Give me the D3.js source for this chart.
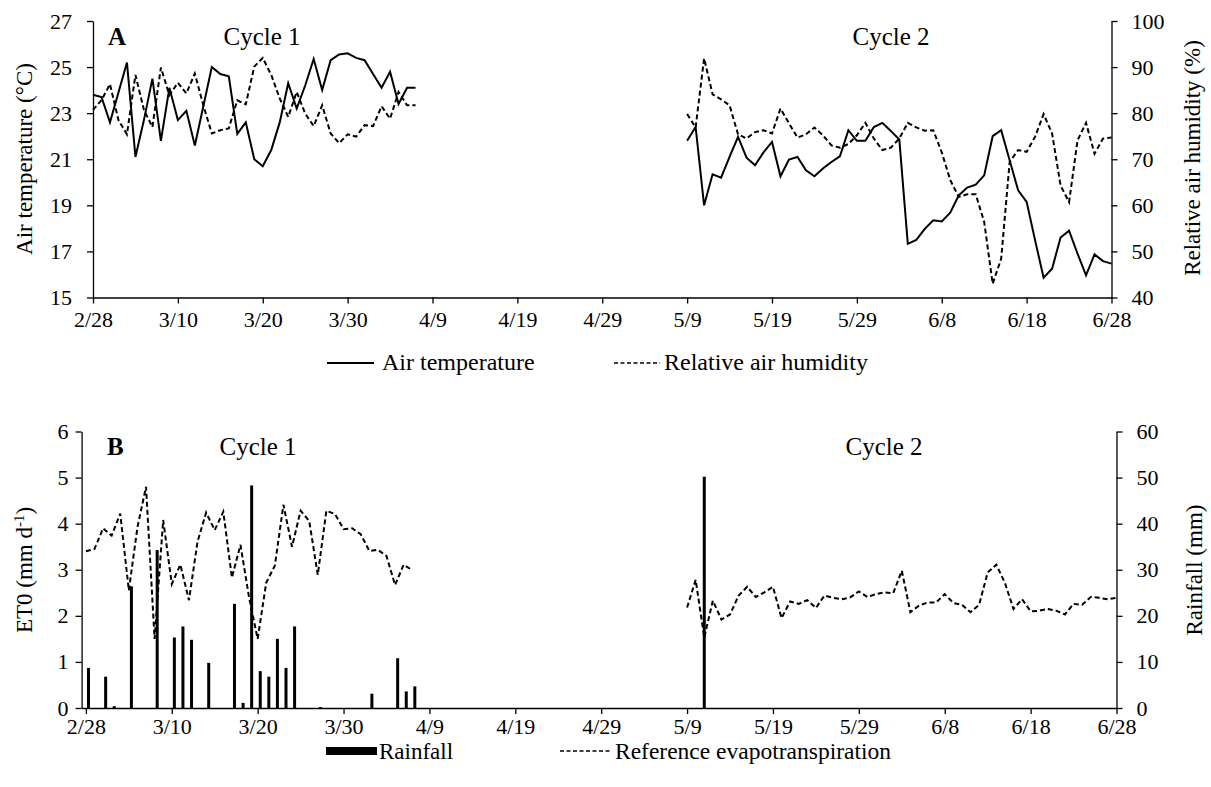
<!DOCTYPE html>
<html>
<head>
<meta charset="utf-8">
<script src="https://cdn.jsdelivr.net/npm/d3@7"></script>
<style>
  body { margin: 0; background: #fff; }
  svg text { font-family: "Liberation Serif", "Times New Roman", serif !important; fill: #000; }
  .axis path, .axis line { stroke: #000; stroke-width: 1.3; }
</style>
</head>
<body>
<script>
// day index 0 = 2/28 ... 120 = 6/28
const tickDays = [0, 10, 20, 30, 40, 50, 60, 70, 80, 90, 100, 110, 120];
const tickLabels = ["2/28", "3/10", "3/20", "3/30", "4/9", "4/19", "4/29", "5/9", "5/19", "5/29", "6/8", "6/18", "6/28"];

const cycle1Start = 0;
const cycle2Start = 70;

// panel A
const temp1 = [23.8, 23.7, 22.6, 23.9, 25.2, 21.1, 22.7, 24.5, 21.8, 24.1, 22.7, 23.1, 21.6, 23.3, 25.0, 24.7, 24.6, 22.1, 22.6, 21.0,
               20.7, 21.4, 22.6, 24.3, 23.2, 24.2, 25.35, 24.0, 25.3, 25.55, 25.6, 25.4, 25.3, 24.7, 24.1, 24.8, 23.4, 24.1, 24.1];
const humid1 = [80.7, 82.8, 86.3, 78.5, 75.4, 88.3, 80.7, 77.0, 89.9, 83.9, 86.6, 84.3, 88.6, 81.7, 75.6, 76.3, 76.7, 82.8, 81.9, 90.1,
                92.0, 88.3, 83.2, 79.2, 84.6, 79.9, 77.2, 81.7, 75.6, 73.5, 75.4, 74.9, 77.4, 77.2, 81.5, 78.8, 84.6, 81.7, 81.7];
const temp2 = [21.8, 22.4, 19.0, 20.35, 20.2, 21.1, 21.97, 21.07, 20.74, 21.3, 21.75, 20.26, 20.99, 21.1, 20.52, 20.26, 20.6, 20.88, 21.13, 22.26,
               21.8, 21.8, 22.4, 22.58, 22.23, 21.86, 17.33, 17.5, 17.98, 18.35, 18.3, 18.68, 19.43, 19.77, 19.9, 20.3, 22.0, 22.26, 20.96, 19.65,
               19.15, 17.48, 15.86, 16.25, 17.6, 17.9, 16.9, 15.96, 16.87, 16.58, 16.47];
const humid2 = [79.8, 76.9, 91.9, 84.1, 83.0, 81.7, 75.4, 74.5, 75.9, 76.3, 75.6, 81.0, 77.8, 74.7, 75.4, 76.9, 75.2, 73.0, 72.5, 73.3,
                75.2, 77.9, 74.5, 72.0, 72.5, 74.5, 77.9, 76.9, 76.2, 76.3, 71.5, 65.5, 61.8, 62.4, 62.4, 56.4, 43.0, 48.4, 69.4, 72.0,
                71.6, 74.9, 79.8, 75.6, 64.3, 60.7, 74.1, 77.9, 71.2, 74.5, 74.7];

// panel B
const eto1 = [3.4, 3.45, 3.90, 3.74, 4.22, 2.55, 3.92, 4.80, 1.50, 4.08, 2.69, 3.11, 2.34, 3.61, 4.24, 3.86, 4.26, 2.83, 3.54, 2.40,
              1.50, 2.72, 3.09, 4.41, 3.50, 4.28, 4.06, 2.89, 4.28, 4.21, 3.88, 3.90, 3.77, 3.41, 3.43, 3.30, 2.67, 3.11, 2.99];
const eto2 = [2.18, 2.78, 1.53, 2.33, 1.92, 2.03, 2.44, 2.63, 2.41, 2.51, 2.63, 1.95, 2.31, 2.26, 2.34, 2.17, 2.44, 2.39, 2.36, 2.40,
              2.53, 2.41, 2.47, 2.51, 2.49, 2.98, 2.08, 2.22, 2.29, 2.29, 2.47, 2.28, 2.24, 2.08, 2.24, 2.94, 3.11, 2.72, 2.15, 2.36,
              2.10, 2.11, 2.15, 2.11, 2.03, 2.26, 2.24, 2.41, 2.39, 2.36, 2.39];
const rainDays = [0, 2, 3, 5, 8, 10, 11, 12, 14, 17, 18, 19, 20, 21, 22, 23, 24, 27, 33, 36, 37, 38, 72];
const rainMm = [8.7, 6.8, 0.4, 26.4, 34.3, 15.3, 17.7, 14.8, 9.8, 22.6, 1.1, 48.3, 8.0, 6.8, 15.0, 8.7, 17.7, 0.2, 3.1, 10.8, 3.6, 4.7, 50.2];

const tempTicks = [15, 17, 19, 21, 23, 25, 27];
const humidTicks = [40, 50, 60, 70, 80, 90, 100];
const etoTicks = [0, 1, 2, 3, 4, 5, 6];
const rainTicks = [0, 10, 20, 30, 40, 50, 60];

const w = 1211;
const h = 787;
const serif = '"Liberation Serif", "Times New Roman", serif';
const fs = 22;

const svg = d3.select("body").append("svg")
              .attr("width", w)
              .attr("height", h)
              .attr("font-family", serif);

const dayLabel = d => tickLabels[tickDays.indexOf(d)];
const toPoints = (vals, start) => vals.map((v, i) => [start + i, v]);

function styleAxis(g) {
  g.attr("class", "axis").attr("font-family", serif).attr("font-size", fs);
  g.selectAll("text").style("font-family", serif).style("font-size", fs + "px").attr("fill", "#000");
}

// ---------- panel A ----------
const xA = d3.scaleLinear().domain([0, 120]).range([93, 1111.5]);
const yTemp = d3.scaleLinear().domain([15, 27]).range([297.5, 21]);
const yHum = d3.scaleLinear().domain([40, 100]).range([297.5, 21]);

svg.append("g")
   .attr("transform", "translate(0," + yTemp(15) + ")")
   .call(d3.axisBottom(xA).tickValues(tickDays).tickFormat(dayLabel).tickSize(6).tickSizeOuter(0).tickPadding(8))
   .call(styleAxis);
svg.append("g")
   .attr("transform", "translate(" + xA(0) + ",0)")
   .call(d3.axisLeft(yTemp).tickValues(tempTicks).tickSize(6).tickSizeOuter(0).tickPadding(15))
   .call(styleAxis);
svg.append("g")
   .attr("transform", "translate(" + xA(120) + ",0)")
   .call(d3.axisRight(yHum).tickValues(humidTicks).tickSize(6).tickSizeOuter(0).tickPadding(14))
   .call(styleAxis);

const lineTemp = d3.line().x(d => xA(d[0])).y(d => yTemp(d[1]));
const lineHum = d3.line().x(d => xA(d[0])).y(d => yHum(d[1]));

[temp1, temp2].forEach((s, k) => {
  svg.append("path").datum(toPoints(s, k ? cycle2Start : cycle1Start))
     .attr("d", lineTemp).attr("fill", "none").attr("stroke", "#000").attr("stroke-width", 2);
});
[humid1, humid2].forEach((s, k) => {
  svg.append("path").datum(toPoints(s, k ? cycle2Start : cycle1Start))
     .attr("d", lineHum).attr("fill", "none").attr("stroke", "#000").attr("stroke-width", 2)
     .attr("stroke-dasharray", "5,3");
});

// ---------- panel B ----------
const xB = d3.scaleLinear().domain([-0.5, 120]).range([81.6, 1116.5]);
const yEto = d3.scaleLinear().domain([0, 6]).range([708, 431.5]);
const yRain = d3.scaleLinear().domain([0, 60]).range([708, 431.5]);

svg.append("g")
   .attr("transform", "translate(0," + yEto(0) + ")")
   .call(d3.axisBottom(xB).tickValues(tickDays).tickFormat(dayLabel).tickSize(6).tickSizeOuter(0).tickPadding(4))
   .call(styleAxis);
svg.append("g")
   .attr("transform", "translate(" + xB(-0.5) + ",0)")
   .call(d3.axisLeft(yEto).tickValues(etoTicks).tickFormat(d3.format("d")).tickSize(6).tickSizeOuter(0).tickPadding(7))
   .call(styleAxis);
svg.append("g")
   .attr("transform", "translate(" + xB(120) + ",0)")
   .call(d3.axisRight(yRain).tickValues(rainTicks).tickFormat(d3.format("d")).tickSize(6).tickSizeOuter(0).tickPadding(14))
   .call(styleAxis);

// cycle 1 rain sits a bit right of the day mark in the original
const rainShift = d => d < cycle2Start ? 0.3 : 0;
svg.selectAll(".rain")
   .data(rainDays.map((d, i) => ({ day: d, mm: rainMm[i] })))
   .enter().append("rect")
   .attr("class", "rain")
   .attr("x", d => xB(d.day + rainShift(d.day)) - 1.5)
   .attr("width", 3)
   .attr("y", d => yRain(d.mm))
   .attr("height", d => yRain(0) - yRain(d.mm))
   .attr("fill", "#000");

const lineEto = d3.line().x(d => xB(d[0])).y(d => yEto(d[1]));
[eto1, eto2].forEach((s, k) => {
  svg.append("path").datum(toPoints(s, k ? cycle2Start : cycle1Start))
     .attr("d", lineEto).attr("fill", "none").attr("stroke", "#000").attr("stroke-width", 2)
     .attr("stroke-dasharray", "5,3");
});

// ---------- titles & labels ----------
function txt(x, y, s, size) {
  return svg.append("text").attr("x", x).attr("y", y)
            .style("font-family", serif).style("font-size", size + "px").text(s);
}
function vtitle(x, y, s) {
  return svg.append("text")
            .attr("transform", "translate(" + x + "," + y + ") rotate(-90)")
            .attr("text-anchor", "middle")
            .style("font-family", serif)
            .style("font-size", "23px")
            .text(s);
}
vtitle(32, 159, "Air temperature (°C)");
vtitle(1200, 158, "Relative air humidity (%)");
const etoT = vtitle(32, 570, "ET0 (mm d");
etoT.append("tspan").attr("baseline-shift", "super").style("font-size", "15px").text("-1");
etoT.append("tspan").text(")");
vtitle(1202, 570, "Rainfall (mm)");

txt(108, 45, "A", 25).style("font-weight", "bold");
txt(107, 455, "B", 25).style("font-weight", "bold");
[[262, 45, "Cycle 1"], [891, 45, "Cycle 2"], [258, 455, "Cycle 1"], [884, 455, "Cycle 2"]].forEach(c => {
  txt(c[0], c[1], c[2], 25).attr("text-anchor", "middle");
});

// ---------- legends ----------
svg.append("line").attr("x1", 327).attr("x2", 374).attr("y1", 363).attr("y2", 363)
   .attr("stroke", "#000").attr("stroke-width", 2);
txt(382, 370, "Air temperature", 24);
svg.append("line").attr("x1", 614).attr("x2", 660).attr("y1", 363).attr("y2", 363)
   .attr("stroke", "#000").attr("stroke-width", 1.5).attr("stroke-dasharray", "4,2.5");
txt(664, 370, "Relative air humidity", 24);

svg.append("rect").attr("x", 326).attr("y", 747).attr("width", 51).attr("height", 8).attr("fill", "#000");
txt(379, 759, "Rainfall", 23);
svg.append("line").attr("x1", 560).attr("x2", 612).attr("y1", 751).attr("y2", 751)
   .attr("stroke", "#000").attr("stroke-width", 1.5).attr("stroke-dasharray", "4,2.5");
txt(615, 759, "Reference evapotranspiration", 23.5);
</script>
</body>
</html>
